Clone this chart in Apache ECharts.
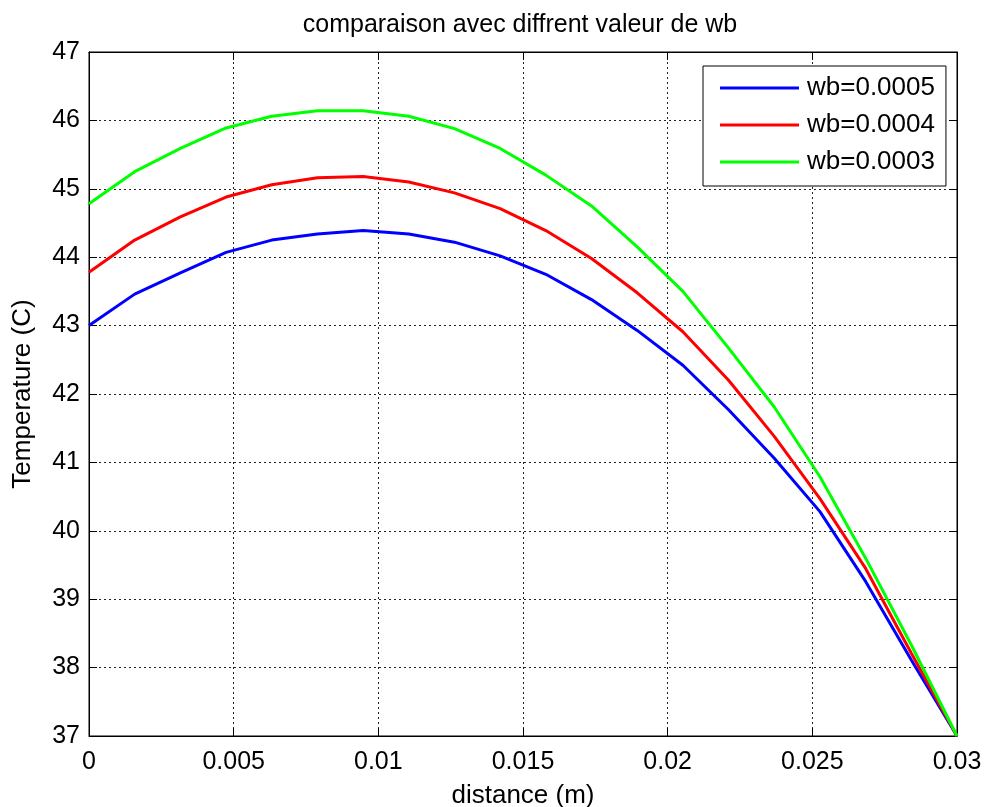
<!DOCTYPE html>
<html>
<head>
<meta charset="utf-8">
<title>comparaison avec diffrent valeur de wb</title>
<script src="https://cdn.jsdelivr.net/npm/echarts@6/dist/echarts.min.js"></script>
<style>
  html, body { margin: 0; padding: 0; background: #fff; }
  #chart { width: 986px; height: 807px; }
</style>
</head>
<body>
<div id="chart"></div>
<script>
// Distance along the fin (m), 20 equally spaced nodes
const distance = [0, 0.001579, 0.003158, 0.004737, 0.006316, 0.007895, 0.009474,
  0.011053, 0.012632, 0.014211, 0.015789, 0.017368, 0.018947, 0.020526,
  0.022105, 0.023684, 0.025263, 0.026842, 0.028421, 0.03];

// Temperature profiles (C) for each wb value
const tempWb0005 = [43.00, 43.46, 43.77, 44.07, 44.25, 44.34, 44.39, 44.34, 44.22, 44.02,
  43.75, 43.38, 42.93, 42.42, 41.77, 41.06, 40.28, 39.26, 38.11, 37.00];
const tempWb0004 = [43.78, 44.25, 44.59, 44.88, 45.06, 45.16, 45.18, 45.10, 44.94, 44.71,
  44.39, 43.98, 43.48, 42.91, 42.20, 41.38, 40.47, 39.45, 38.21, 37.00];
const tempWb0003 = [44.78, 45.25, 45.59, 45.89, 46.06, 46.14, 46.14, 46.06, 45.88, 45.59,
  45.20, 44.75, 44.15, 43.50, 42.67, 41.81, 40.79, 39.60, 38.33, 37.00];

const seriesNames = ['wb=0.0005', 'wb=0.0004', 'wb=0.0003'];
const seriesColors = ['#0000ff', '#ff0000', '#00ff00'];
const seriesValues = [tempWb0005, tempWb0004, tempWb0003];

const FONT = '"Liberation Sans", Arial, Helvetica, sans-serif';

const pairs = vals => distance.map((d, i) => [d, vals[i]]);

const gridLine = { show: true, lineStyle: { color: '#222', width: 1, type: [2, 3] } };
const tickIn = { show: true, inside: true, length: 8, lineStyle: { color: '#000', width: 1 } };

const chart = echarts.init(document.getElementById('chart'), null, { renderer: 'canvas' });

chart.setOption({
  animation: false,
  backgroundColor: '#ffffff',
  title: {
    text: 'comparaison avec diffrent valeur de wb',
    top: 8,
    left: 515,
    textAlign: 'center',
    textStyle: { fontFamily: FONT, fontSize: 25, fontWeight: 'normal', color: '#000' }
  },
  legend: {
    orient: 'vertical',
    left: 703,
    top: 66,
    data: seriesNames,
    icon: 'rect',
    itemWidth: 79,
    itemHeight: 3,
    itemGap: 11,
    padding: [9, 11, 11, 17],
    borderColor: '#000',
    borderWidth: 1,
    backgroundColor: '#fff',
    textStyle: { fontFamily: FONT, fontSize: 26, color: '#000', lineHeight: 26, padding: [0, 0, 0, 3] }
  },
  grid: {
    left: 89, top: 52, right: 29, bottom: 71,
    outerBoundsMode: 'none',
    containLabel: false,
    show: true, borderColor: '#000', borderWidth: 1, backgroundColor: '#fff'
  },
  xAxis: [{
    type: 'value',
    min: 0, max: 0.03, interval: 0.005,
    name: 'distance (m)',
    nameLocation: 'middle',
    nameGap: 47,
    nameTextStyle: { fontFamily: FONT, fontSize: 26, color: '#000' },
    axisLine: { show: true, onZero: false, lineStyle: { color: '#000', width: 1 } },
    axisTick: tickIn,
    axisLabel: {
      fontFamily: FONT, fontSize: 25, color: '#000', margin: 14,
      formatter: v => String(parseFloat(v.toFixed(4)))
    },
    splitLine: gridLine
  }, {
    type: 'value', position: 'top',
    min: 0, max: 0.03, interval: 0.005,
    axisLine: { show: true, onZero: false, lineStyle: { color: '#000', width: 1 } },
    axisTick: tickIn,
    axisLabel: { show: false },
    splitLine: { show: false }
  }],
  yAxis: [{
    type: 'value',
    min: 37, max: 47, interval: 1,
    name: 'Temperature (C)',
    nameLocation: 'middle',
    nameGap: 53,
    nameTextStyle: { fontFamily: FONT, fontSize: 26, color: '#000' },
    axisLine: { show: true, onZero: false, lineStyle: { color: '#000', width: 1 } },
    axisTick: tickIn,
    axisLabel: { fontFamily: FONT, fontSize: 25, color: '#000', margin: 9 },
    splitLine: gridLine
  }, {
    type: 'value', position: 'right',
    min: 37, max: 47, interval: 1,
    axisLine: { show: true, onZero: false, lineStyle: { color: '#000', width: 1 } },
    axisTick: tickIn,
    axisLabel: { show: false },
    splitLine: { show: false }
  }],
  series: seriesNames.map((name, k) => ({
    name: name,
    type: 'line',
    xAxisIndex: 0,
    yAxisIndex: 0,
    data: pairs(seriesValues[k]),
    showSymbol: false,
    symbol: 'none',
    color: seriesColors[k],
    lineStyle: { color: seriesColors[k], width: 3 },
    z: 10 + k
  }))
});
</script>
</body>
</html>
